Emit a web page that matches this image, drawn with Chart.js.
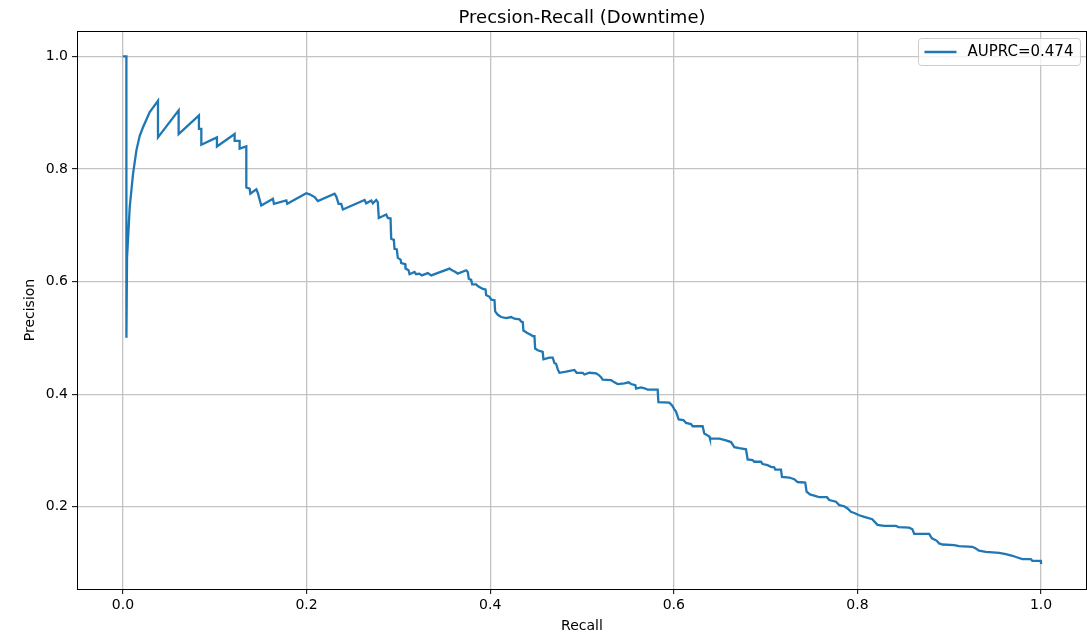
<!DOCTYPE html>
<html>
<head>
<meta charset="utf-8">
<title>Precsion-Recall (Downtime)</title>
<script src="https://cdn.jsdelivr.net/npm/chart.js@4/dist/chart.umd.min.js"></script>
<style>
  html, body { margin: 0; padding: 0; background: #ffffff; }
  #wrap { width: 1087px; height: 634px; }
</style>
</head>
<body>
<div id="wrap"><canvas id="pr" width="1087" height="634"></canvas></div>
<script>
// Precision-recall curve vertices (recall, precision), in threshold order.
const recall = [
  0, 0.0038, 0.0038, 0.0045, 0.0063, 0.0074, 0.011, 0.0147, 0.0183, 0.0219,
  0.0292, 0.0382, 0.0382, 0.0607, 0.0607, 0.0828, 0.0828, 0.0854, 0.0854, 0.1024,
  0.1024, 0.1217, 0.1217, 0.1271, 0.1271, 0.1344, 0.1344, 0.1380, 0.1388, 0.1453,
  0.1470, 0.1507, 0.1634, 0.1645, 0.1780, 0.1790, 0.1997, 0.2033, 0.2088, 0.2123,
  0.2305, 0.2324, 0.2349, 0.2378, 0.2396, 0.2632, 0.2650, 0.2705, 0.2722, 0.2759,
  0.2776, 0.2787, 0.2868, 0.2885, 0.2915, 0.2922, 0.2951, 0.2958, 0.2983, 0.2994,
  0.3024, 0.3031, 0.3075, 0.3078, 0.3111, 0.3122, 0.3176, 0.3194, 0.3230, 0.3255,
  0.3321, 0.3358, 0.3557, 0.3575, 0.3622, 0.3647, 0.3739, 0.3756, 0.3767, 0.3793,
  0.3804, 0.3847, 0.3865, 0.3919, 0.3949, 0.3956, 0.3992, 0.4011, 0.4047, 0.4054,
  0.4083, 0.4120, 0.4174, 0.4228, 0.4264, 0.4319, 0.4337, 0.4355, 0.4362, 0.4392,
  0.4409, 0.4446, 0.4463, 0.4482, 0.4490, 0.4518, 0.4572, 0.4580, 0.4645, 0.4681,
  0.4700, 0.4718, 0.4736, 0.4754, 0.4827, 0.4917, 0.4942, 0.5008, 0.5026, 0.5081,
  0.5154, 0.5182, 0.5208, 0.5225, 0.5317, 0.5353, 0.5389, 0.5462, 0.5508, 0.5534,
  0.5581, 0.5589, 0.5643, 0.5690, 0.5715, 0.5824, 0.5832, 0.5951, 0.5981, 0.6006,
  0.6024, 0.6053, 0.6104, 0.6133, 0.6187, 0.6205, 0.6314, 0.6332, 0.6387, 0.6394,
  0.6496, 0.6568, 0.6623, 0.6659, 0.6713, 0.6786, 0.6804, 0.6858, 0.6876, 0.6949,
  0.6967, 0.7021, 0.7058, 0.7094, 0.7105, 0.7167, 0.7178, 0.7257, 0.7312, 0.7348,
  0.7431, 0.7446, 0.7483, 0.7548, 0.7584, 0.7668, 0.7693, 0.7766, 0.7802, 0.7856,
  0.7892, 0.7929, 0.7965, 0.8019, 0.8074, 0.8161, 0.8218, 0.8291, 0.8419, 0.8447,
  0.8563, 0.8599, 0.8618, 0.8781, 0.8811, 0.8861, 0.8890, 0.8926, 0.9053, 0.9107,
  0.9252, 0.9289, 0.9325, 0.9398, 0.9543, 0.9616, 0.9688, 0.9742, 0.9797, 0.9888,
  0.9905, 0.9997, 1.0
];
const precision = [
  1.0, 1.0, 0.5, 0.643, 0.697, 0.732, 0.791, 0.833, 0.859, 0.874,
  0.901, 0.921, 0.856, 0.904, 0.862, 0.895, 0.871, 0.871, 0.843, 0.856,
  0.840, 0.862, 0.850, 0.850, 0.836, 0.840, 0.767, 0.765, 0.756, 0.764,
  0.757, 0.735, 0.747, 0.738, 0.744, 0.738, 0.757, 0.755, 0.750, 0.743,
  0.756, 0.751, 0.738, 0.738, 0.728, 0.745, 0.739, 0.744, 0.739, 0.745,
  0.741, 0.713, 0.719, 0.713, 0.712, 0.676, 0.674, 0.658, 0.657, 0.642,
  0.639, 0.633, 0.631, 0.623, 0.620, 0.613, 0.617, 0.613, 0.614, 0.611,
  0.615, 0.611, 0.623, 0.621, 0.617, 0.614, 0.620, 0.617, 0.605, 0.603,
  0.595, 0.595, 0.592, 0.587, 0.586, 0.576, 0.573, 0.568, 0.567, 0.547,
  0.541, 0.537, 0.535, 0.537, 0.534, 0.533, 0.529, 0.528, 0.513, 0.510,
  0.508, 0.505, 0.503, 0.503, 0.481, 0.478, 0.475, 0.462, 0.465, 0.465,
  0.455, 0.454, 0.444, 0.438, 0.440, 0.443, 0.438, 0.438, 0.435, 0.438,
  0.437, 0.434, 0.430, 0.426, 0.425, 0.421, 0.418, 0.419, 0.421, 0.418,
  0.416, 0.410, 0.412, 0.410, 0.408, 0.408, 0.386, 0.385, 0.380, 0.373,
  0.369, 0.355, 0.354, 0.349, 0.347, 0.343, 0.343, 0.330, 0.325, 0.321,
  0.321, 0.318, 0.315, 0.306, 0.304, 0.302, 0.284, 0.283, 0.280, 0.280,
  0.276, 0.274, 0.271, 0.270, 0.266, 0.266, 0.253, 0.252, 0.249, 0.244,
  0.243, 0.227, 0.222, 0.219, 0.217, 0.217, 0.212, 0.209, 0.203, 0.201,
  0.197, 0.191, 0.189, 0.185, 0.182, 0.178, 0.168, 0.166, 0.166, 0.164,
  0.163, 0.160, 0.152, 0.152, 0.144, 0.140, 0.135, 0.133, 0.132, 0.130,
  0.129, 0.126, 0.122, 0.120, 0.118, 0.116, 0.113, 0.110, 0.107, 0.107,
  0.104, 0.104, 0.0984
];
const xTicks = [0.0, 0.2, 0.4, 0.6, 0.8, 1.0];
const yTicks = [0.2, 0.4, 0.6, 0.8, 1.0];
const seriesLabel = 'AUPRC=0.474';

const FONT = "'DejaVu Sans', 'Liberation Sans', sans-serif";
const LINE_COLOR = '#1f77b4';

// Black frame around the plotting area plus a framed legend in the upper right.
const framePlugin = {
  id: 'frameAndLegend',
  afterDatasetsDraw(chart) {
    const { ctx, chartArea: a } = chart;
    ctx.save();
    ctx.strokeStyle = '#000000';
    ctx.lineWidth = 1;
    ctx.strokeRect(Math.round(a.left) + 0.5, Math.round(a.top) + 0.5,
                   Math.round(a.right - a.left) - 1, Math.round(a.bottom - a.top));

    // legend
    const label = chart.data.datasets[0].label;
    ctx.font = '15px ' + FONT;
    const tw = ctx.measureText(label).width;
    const boxW = 6 + 32 + 11 + tw + 7;
    const boxH = 27;
    const bx = Math.round(a.right - 7 - boxW) + 0.5;
    const by = Math.round(a.top + 7) + 0.5;
    ctx.beginPath();
    ctx.roundRect(bx, by, boxW, boxH, 3);
    ctx.fillStyle = 'rgba(255,255,255,0.8)';
    ctx.fill();
    ctx.strokeStyle = '#cccccc';
    ctx.lineWidth = 1;
    ctx.stroke();
    const cy = by + boxH / 2;
    ctx.beginPath();
    ctx.moveTo(bx + 6, cy);
    ctx.lineTo(bx + 38, cy);
    ctx.strokeStyle = LINE_COLOR;
    ctx.lineWidth = 2.3;
    ctx.stroke();
    ctx.fillStyle = '#000000';
    ctx.textBaseline = 'middle';
    ctx.textAlign = 'left';
    ctx.fillText(label, bx + 49, cy + 0.5);
    ctx.restore();
  }
};

const points = recall.map((r, i) => ({ x: r, y: precision[i] }));

new Chart(document.getElementById('pr'), {
  type: 'scatter',
  data: {
    datasets: [{
      label: seriesLabel,
      data: points,
      showLine: true,
      borderColor: LINE_COLOR,
      backgroundColor: LINE_COLOR,
      borderWidth: 2.3,
      pointRadius: 0,
      pointHoverRadius: 0,
      tension: 0,
      fill: false
    }]
  },
  options: {
    responsive: false,
    animation: false,
    devicePixelRatio: 1,
    layout: { padding: 0 },
    plugins: {
      legend: { display: false },
      tooltip: { enabled: false },
      title: {
        display: true,
        text: 'Precsion-Recall (Downtime)',
        fullSize: false,
        color: '#000000',
        font: { family: FONT, size: 18, weight: 'normal', lineHeight: 1.2 },
        padding: { top: 8, bottom: 1.4 }
      }
    },
    scales: {
      x: {
        type: 'linear',
        min: -0.05,
        max: 1.05,
        afterBuildTicks: s => { s.ticks = xTicks.map(v => ({ value: v })); },
        afterFit: s => { s.height = 45; },
        ticks: {
          color: '#000000',
          font: { family: FONT, size: 14 },
          padding: 3,
          maxRotation: 0,
          autoSkip: false,
          callback: v => Number(v).toFixed(1)
        },
        grid: {
          color: '#c4c4c4',
          lineWidth: 1.3,
          drawTicks: true,
          tickLength: 5,
          tickColor: '#000000',
          tickWidth: 1
        },
        border: { display: false },
        title: {
          display: true,
          text: 'Recall',
          color: '#000000',
          font: { family: FONT, size: 14, lineHeight: 1.1 },
          padding: { top: 0, bottom: 0 }
        }
      },
      y: {
        type: 'linear',
        min: 0.054,
        max: 1.045,
        afterBuildTicks: s => { s.ticks = yTicks.map(v => ({ value: v })); },
        afterFit: s => { s.width = 77; },
        ticks: {
          color: '#000000',
          font: { family: FONT, size: 14 },
          padding: 4,
          autoSkip: false,
          callback: v => Number(v).toFixed(1)
        },
        grid: {
          color: '#c4c4c4',
          lineWidth: 1.3,
          drawTicks: true,
          tickLength: 5,
          tickColor: '#000000',
          tickWidth: 1
        },
        border: { display: false },
        title: {
          display: true,
          text: 'Precision',
          color: '#000000',
          font: { family: FONT, size: 14, lineHeight: 1.2 },
          padding: { top: 22, bottom: 0 }
        }
      }
    }
  },
  plugins: [framePlugin]
});
</script>
</body>
</html>
